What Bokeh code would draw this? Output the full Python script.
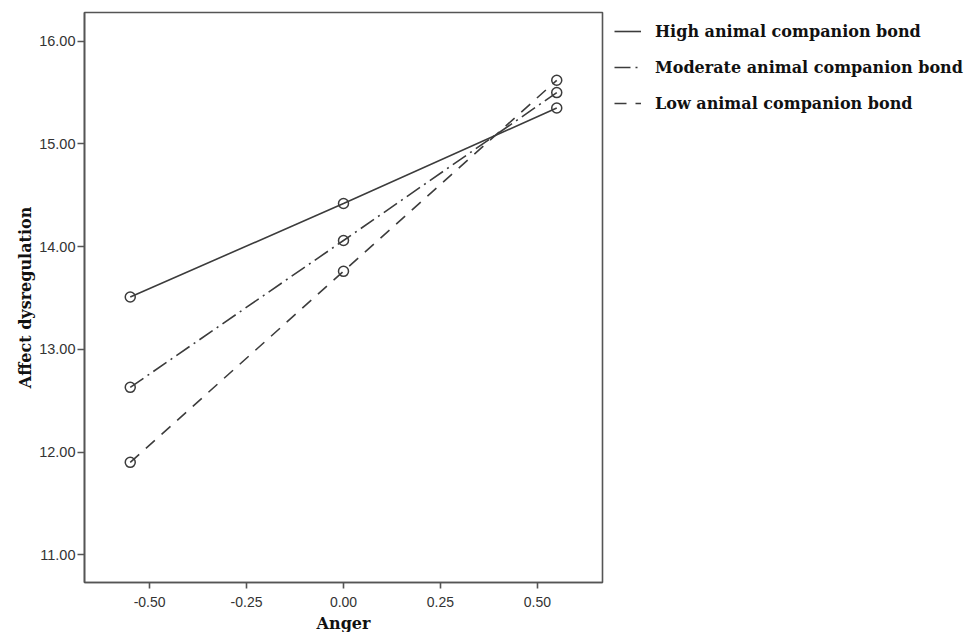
from bokeh.plotting import figure
from bokeh.models import Range1d, FixedTicker, PrintfTickFormatter, Legend, LegendItem
from bokeh.embed import file_html
from bokeh.resources import INLINE

# ---- data ----
anger = [-0.55, 0.0, 0.55]
high = [13.51, 14.42, 15.35]
moderate = [12.63, 14.06, 15.50]
low = [11.90, 13.76, 15.62]
series_labels = ["High animal companion bond",
                 "Moderate animal companion bond",
                 "Low animal companion bond"]
x_ticks = [-0.5, -0.25, 0.0, 0.25, 0.5]
y_ticks = [11, 12, 13, 14, 15, 16]

LINE = "#3c3c3c"
FRAME = "#555555"

p = figure(frame_width=518, frame_height=570, output_backend="svg", toolbar_location=None,
           x_range=Range1d(-0.668, 0.668), y_range=Range1d(10.73, 16.28),
           min_border_left=84, min_border_right=366, min_border_top=12,
           min_border_bottom=50)
p.xgrid.visible = False
p.ygrid.visible = False
p.outline_line_color = FRAME
p.outline_line_width = 1.6
p.background_fill_color = "white"
p.border_fill_color = "white"

styles = ["solid", "16 5 2 5", "12 9"]
items = []
for ys, lab, dash in zip([high, moderate, low], series_labels, styles):
    r = p.line(anger, ys, line_color=LINE, line_width=1.6, line_dash=dash)
    p.scatter(anger, ys, size=10, marker="circle", fill_color=None,
              line_color=LINE, line_width=1.5)
    items.append(LegendItem(label=lab, renderers=[r]))

for ax in (p.xaxis[0], p.yaxis[0]):
    ax.axis_line_color = FRAME
    ax.axis_line_width = 1.6
    ax.major_tick_line_color = FRAME
    ax.major_tick_line_width = 1.6
    ax.minor_tick_line_color = None
    ax.major_tick_in = 0
    ax.major_tick_out = 6
    ax.major_label_text_font = "Liberation Sans"
    ax.major_label_text_font_size = "14px"
    ax.major_label_text_color = "#333333"
    ax.axis_label_text_font = "DejaVu Serif"
    ax.axis_label_text_font_style = "bold"
    ax.axis_label_text_font_size = "16px"
    ax.axis_label_text_color = "#111111"
    ax.formatter = PrintfTickFormatter(format="%.2f")

p.xaxis.ticker = FixedTicker(ticks=x_ticks)
p.yaxis.ticker = FixedTicker(ticks=y_ticks)
p.xaxis.axis_label = "Anger"
p.yaxis.axis_label = "Affect dysregulation"
p.xaxis.major_label_standoff = 8
p.xaxis.axis_label_standoff = 4
p.yaxis.major_tick_out = 7
p.yaxis.major_label_text_font_size = "14.5px"
p.yaxis.major_label_standoff = 2
p.yaxis.axis_label_standoff = 1

legend = Legend(items=items, location=(12, 469), padding=0, margin=0,
                spacing=16, glyph_width=27, glyph_height=20, label_height=20,
                label_standoff=14, border_line_color=None,
                background_fill_alpha=0,
                label_text_font="DejaVu Serif", label_text_font_style="bold",
                label_text_font_size="16px", label_text_color="#111111")
p.add_layout(legend, "right")

open("out.html", "w").write(file_html(p, INLINE))
